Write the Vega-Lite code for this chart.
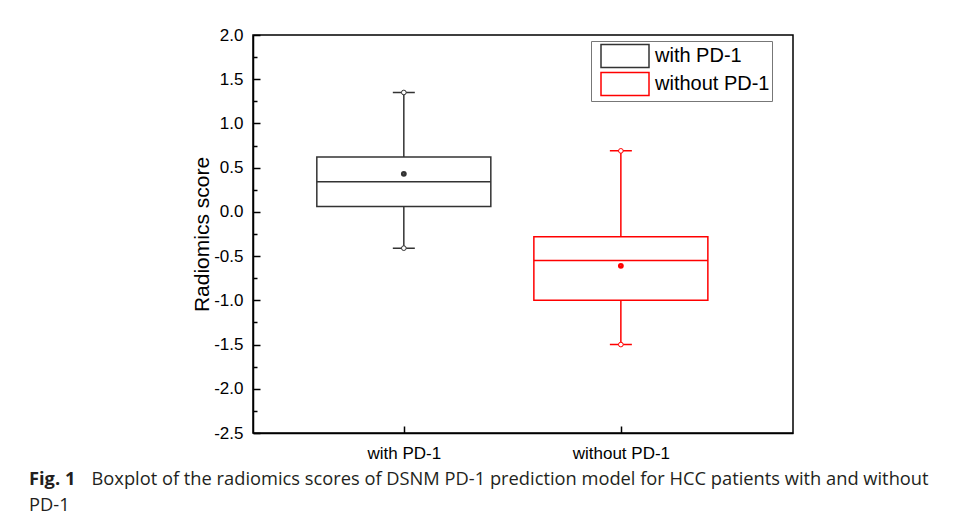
{
  "$schema": "https://vega.github.io/schema/vega-lite/v6.json",
  "width": 540,
  "height": 398,
  "autosize": {"type": "none"},
  "padding": {"left": 253, "top": 35, "right": 167, "bottom": 86},
  "background": "white",
  "title": {
    "text": "Fig. 1",
    "subtitle": "PD-1",
    "orient": "bottom",
    "anchor": "start",
    "frame": "group",
    "dx": -224,
    "offset": -16,
    "font": "Open Sans",
    "fontSize": 18.3,
    "fontWeight": "bold",
    "color": "#231f20",
    "subtitleFont": "Open Sans",
    "subtitleFontSize": 18.3,
    "subtitleFontWeight": "normal",
    "subtitleColor": "#231f20",
    "subtitlePadding": 7
  },
  "data": {
    "values": [
      {"group": "with PD-1", "min": -0.41, "q1": 0.06, "median": 0.34, "q3": 0.62, "max": 1.35, "mean": 0.43},
      {"group": "without PD-1", "min": -1.5, "q1": -1.0, "median": -0.55, "q3": -0.28, "max": 0.69, "mean": -0.61}
    ]
  },
  "encoding": {
    "x": {
      "field": "group",
      "type": "nominal",
      "sort": ["with PD-1", "without PD-1"],
      "scale": {"type": "point", "padding": 0.744, "align": 0.467},
      "title": "Boxplot of the radiomics scores of DSNM PD-1 prediction model for HCC patients with and without",
      "axis": {
        "labelAngle": 0,
        "labelFont": "Liberation Sans",
        "labelFontSize": 17,
        "labelColor": "black",
        "labelPadding": 19,
        "tickSize": -7,
        "tickWidth": 1.5,
        "tickColor": "black",
        "domainColor": "black",
        "domainWidth": 1.5,
        "grid": false,
        "titleFont": "Open Sans",
        "titleFontSize": 18.3,
        "titleFontWeight": "normal",
        "titleColor": "#231f20",
        "titleAnchor": "start",
        "titleAlign": "left",
        "titleBaseline": "alphabetic",
        "titleAngle": 0,
        "titleX": -162,
        "titleY": 51
      }
    },
    "color": {"field": "group", "type": "nominal", "scale": {"domain": ["with PD-1", "without PD-1"], "range": ["#333333", "#ff0000"]}}
  },
  "layer": [
    {
      "mark": {"type": "rule", "strokeWidth": 1.5},
      "encoding": {
        "y": {
          "field": "min",
          "type": "quantitative",
          "scale": {"domain": [-2.5, 2], "nice": false, "zero": false},
          "axis": {
            "orient": "left",
            "values": [-2.5, -2, -1.5, -1, -0.5, 0, 0.5, 1, 1.5, 2],
            "labelExpr": "replace(format(datum.value, '.1f'), '\u2212', '-')",
            "title": "Radiomics score",
            "titleFont": "Liberation Sans",
            "titleFontSize": 21,
            "titleFontWeight": "normal",
            "titleColor": "black",
            "titlePadding": 1,
            "labelFont": "Liberation Sans",
            "labelFontSize": 17,
            "labelColor": "black",
            "labelPadding": 17,
            "tickSize": -7,
            "tickWidth": 1.5,
            "tickColor": "black",
            "domainColor": "black",
            "domainWidth": 1.5,
            "grid": false
          }
        },
        "y2": {"field": "q1"}
      }
    },
    {
      "mark": {"type": "rule", "strokeWidth": 1.5},
      "encoding": {
        "y": {
          "field": "q3",
          "type": "quantitative",
          "scale": {"domain": [-2.5, 2], "nice": false, "zero": false},
          "axis": {
            "orient": "left",
            "values": [-2.25, -1.75, -1.25, -0.75, -0.25, 0.25, 0.75, 1.25, 1.75],
            "labels": false,
            "title": null,
            "domain": false,
            "tickSize": -4,
            "tickWidth": 1.5,
            "tickColor": "black",
            "grid": false
          }
        },
        "y2": {"field": "max"}
      }
    },
    {
      "mark": {"type": "bar", "size": 174, "filled": false, "fill": "white", "strokeWidth": 1.5},
      "encoding": {
        "y": {"field": "q1", "type": "quantitative", "scale": {"domain": [-2.5, 2], "nice": false, "zero": false}, "axis": null},
        "y2": {"field": "q3"},
        "color": {
          "field": "group",
          "type": "nominal",
          "legend": {
            "orient": "none",
            "legendX": 338,
            "legendY": 6,
            "title": null,
            "symbolType": "M-2,-0.96H2V0.96H-2Z",
            "symbolSize": 576,
            "symbolStrokeWidth": 1.5,
            "symbolFillColor": "white",
            "symbolOffset": 19,
            "labelOffset": 17,
            "labelFont": "Liberation Sans",
            "labelFontSize": 20,
            "labelColor": "black",
            "labelLimit": 300,
            "strokeColor": "#777777",
            "fillColor": "white",
            "padding": 2,
            "rowPadding": -7
          }
        }
      }
    },
    {
      "mark": {"type": "bar", "size": 174, "filled": false, "strokeWidth": 1.5},
      "encoding": {
        "y": {"field": "median", "type": "quantitative", "scale": {"domain": [-2.5, 2], "nice": false, "zero": false}, "axis": null},
        "y2": {"field": "median"}
      }
    },
    {
      "transform": [{"fold": ["min", "max"], "as": ["stat", "value"]}],
      "mark": {"type": "bar", "size": 22, "filled": false, "strokeWidth": 1.5},
      "encoding": {
        "y": {"field": "value", "type": "quantitative", "scale": {"domain": [-2.5, 2], "nice": false, "zero": false}, "axis": null},
        "y2": {"field": "value"}
      }
    },
    {
      "transform": [{"fold": ["min", "max"], "as": ["stat", "value"]}],
      "mark": {"type": "point", "filled": false, "fill": "white", "size": 22, "strokeWidth": 1, "opacity": 1},
      "encoding": {
        "y": {"field": "value", "type": "quantitative", "scale": {"domain": [-2.5, 2], "nice": false, "zero": false}, "axis": null}
      }
    },
    {
      "mark": {"type": "point", "filled": false, "size": 7, "strokeWidth": 3.2, "opacity": 1},
      "encoding": {
        "y": {"field": "mean", "type": "quantitative", "scale": {"domain": [-2.5, 2], "nice": false, "zero": false}, "axis": null}
      }
    }
  ],
  "resolve": {"axis": {"y": "independent"}},
  "config": {
    "font": "Liberation Sans",
    "view": {"stroke": "black", "strokeWidth": 1.5}
  }
}
